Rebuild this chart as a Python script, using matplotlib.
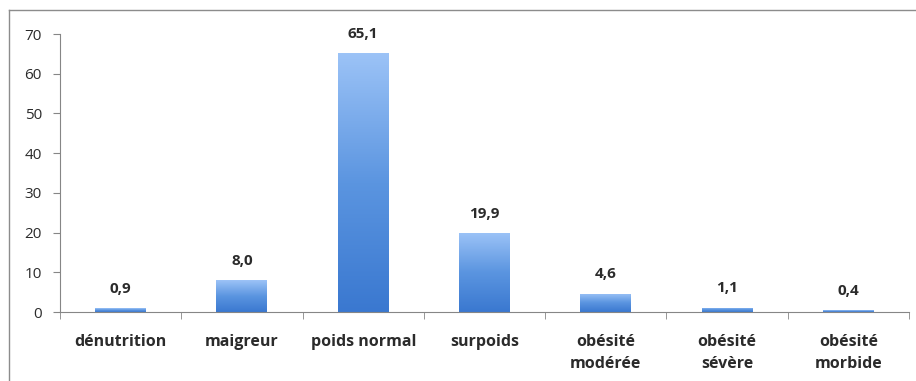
import numpy as np
import matplotlib.pyplot as plt
from matplotlib.colors import LinearSegmentedColormap
from matplotlib.lines import Line2D

categories = ["dénutrition", "maigreur", "poids normal", "surpoids",
              "obésité\nmodérée", "obésité\nsévère", "obésité\nmorbide"]
values = [0.9, 8.0, 65.1, 19.9, 4.6, 1.1, 0.4]
value_labels = ["0,9", "8,0", "65,1", "19,9", "4,6", "1,1", "0,4"]
yticks = [0, 10, 20, 30, 40, 50, 60, 70]

plt.rcParams['font.family'] = ['Open Sans', 'DejaVu Sans']
text_color = "#2b2b2b"

fig = plt.figure(figsize=(9.16, 3.81), dpi=100)
ax = fig.add_axes([60 / 916, 69 / 381, 849 / 916, 278 / 381])

# outer chart frame (left and top edges)
fig.add_artist(Line2D([9 / 916, 9 / 916], [0, 371 / 381], transform=fig.transFigure,
                      color="#8c8c8c", lw=1.0))
fig.add_artist(Line2D([9 / 916, 1], [371 / 381, 371 / 381], transform=fig.transFigure,
                      color="#8c8c8c", lw=1.0))

x = np.arange(len(categories))
width = 0.42
cmap = LinearSegmentedColormap.from_list("bluegrad", ["#3a78d0", "#5b95e0", "#9cc3f7"])
grad = np.linspace(0, 1, 256).reshape(-1, 1)

bars = ax.bar(x, values, width=width, color="none", edgecolor="none")
for bar, v in zip(bars, values):
    x0 = bar.get_x()
    im = ax.imshow(grad, extent=[x0, x0 + bar.get_width(), 0, v], origin="lower",
                   cmap=cmap, aspect="auto", zorder=2)
    im.set_clip_path(bar)

for xi, v, lab in zip(x, values, value_labels):
    ax.annotate(lab, (xi, v), xytext=(0, 14), textcoords="offset points",
                ha="center", va="center", fontsize=11, fontweight="bold", color=text_color)

ax.set_xlim(-0.5, len(categories) - 0.5)
ax.set_ylim(0, 70)
ax.set_yticks(yticks)
ax.set_yticklabels([str(t) for t in yticks], fontsize=11, color=text_color)
ax.set_xticks(x)
ax.set_xticklabels(categories, fontsize=11.5, fontweight="bold", color=text_color,
                   linespacing=1.5)
ax.set_xticks(np.arange(-0.5, len(categories)), minor=True)
ax.tick_params(axis="x", which="major", length=0, pad=16)
ax.tick_params(axis="x", which="minor", length=5, color="#868686", direction="out")
ax.tick_params(axis="y", length=5, color="#868686", pad=8)

for s in ["top", "right"]:
    ax.spines[s].set_visible(False)
for s in ["left", "bottom"]:
    ax.spines[s].set_color("#868686")

fig.savefig("out.png", dpi=100)
